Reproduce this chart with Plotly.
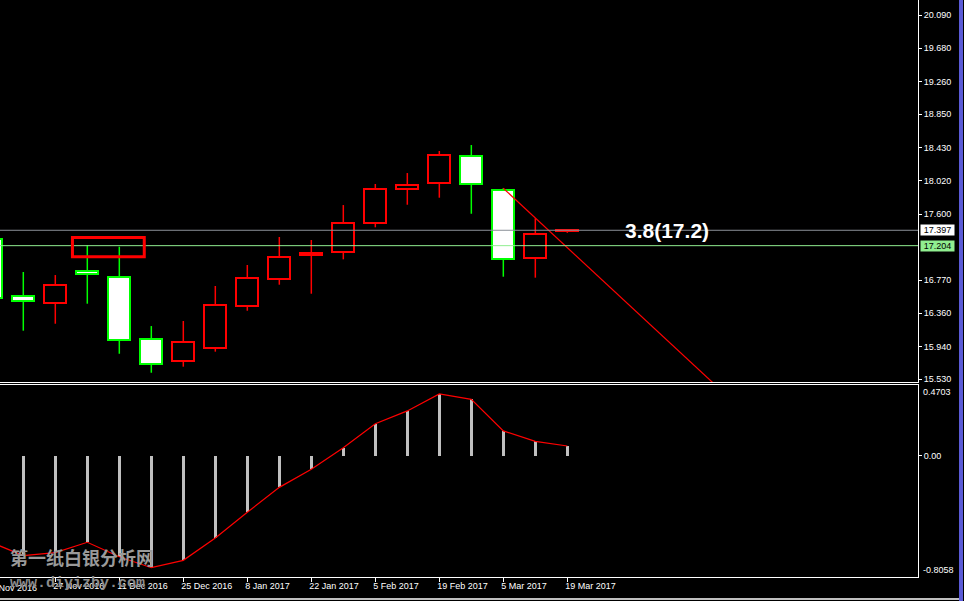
import plotly.graph_objects as go
import pandas as pd

# ---------------- data ----------------
dates = ["2016-11-13", "2016-11-20", "2016-11-27", "2016-12-04", "2016-12-11",
         "2016-12-18", "2016-12-25", "2017-01-01", "2017-01-08", "2017-01-15",
         "2017-01-22", "2017-01-29", "2017-02-05", "2017-02-12", "2017-02-19",
         "2017-02-26", "2017-03-05", "2017-03-12", "2017-03-19"]
opens = [17.284, 16.570, 16.481, 16.883, 16.808, 16.031, 15.755, 15.918, 16.444, 16.782,
         17.083, 17.120, 17.484, 17.910, 17.985, 18.324, 17.898, 17.045, 17.392]
highs = [17.330, 16.874, 16.836, 17.208, 17.191, 16.197, 16.260, 16.699, 16.962, 17.313,
         17.275, 17.713, 17.977, 18.114, 18.390, 18.465, 17.926, 17.547, 17.410]
lows = [16.450, 16.139, 16.226, 16.477, 15.850, 15.612, 15.688, 15.876, 16.389, 16.715,
        16.602, 17.033, 17.434, 17.717, 17.805, 17.604, 16.815, 16.803, 17.365]
closes = [16.544, 16.506, 16.708, 16.845, 16.018, 15.717, 15.994, 16.457, 16.796, 17.059,
          17.109, 17.485, 17.911, 17.961, 18.337, 17.972, 17.033, 17.347, 17.398]

osc_values = [-0.576, -0.664, -0.644, -0.575, -0.671, -0.744, -0.695, -0.547, -0.376, -0.210,
              -0.090, 0.054, 0.213, 0.298, 0.411, 0.375, 0.165, 0.096, 0.065]

bid_price = 17.397
level_price = 17.204
note_text = "3.8(17.2)"
note_date = "2017-03-31 05:00"
rect_dates = ["2016-11-30 18:00", "2016-12-16 11:00"]
rect_prices = [17.064, 17.306]
trend_dates = ["2017-03-05", "2017-03-12"]
trend_prices = [17.923, 17.551]

price_ticks = [20.090, 19.680, 19.260, 18.850, 18.430, 18.020, 17.600, 16.770, 16.360, 15.940, 15.530]
price_tick_labels = ["20.090", "19.680", "19.260", "18.850", "18.430", "18.020", "17.600",
                     "16.770", "16.360", "15.940", "15.530"]
date_ticks = ["2016-11-27", "2016-12-11", "2016-12-25", "2017-01-08", "2017-01-22",
              "2017-02-05", "2017-02-19", "2017-03-05", "2017-03-19"]
date_tick_labels = ["27 Nov 2016", "11 Dec 2016", "25 Dec 2016", "8 Jan 2017", "22 Jan 2017",
                    "5 Feb 2017", "19 Feb 2017", "5 Mar 2017", "19 Mar 2017"]
first_date = "2016-11-13"
first_date_label = "13 Nov 2016"
osc_max_label = "0.4703"
osc_min_label = "-0.8058"
osc_max = 0.4703
osc_min = -0.8058

x_range = ["2016-11-14 21:40", "2017-06-03 17:00"]
price_range = [15.496, 20.282]

# ---------------- styling ----------------
UP_LINE = "#ff0000"
DOWN_LINE = "#00ff00"
FONT = "Liberation Sans"
DAY_MS = 86400000
body_width = 4.8125 * DAY_MS
hist_width = 0.66 * DAY_MS
PLOT_W = 918.0
PLOT_H = 577.0

d = pd.to_datetime(dates)
up_idx = [i for i in range(len(dates)) if closes[i] >= opens[i]]
dn_idx = [i for i in range(len(dates)) if closes[i] < opens[i]]


def wick_xy(idx):
    xs, ys = [], []
    for i in idx:
        top = max(opens[i], closes[i])
        bot = min(opens[i], closes[i])
        xs += [d[i], d[i], None, d[i], d[i], None]
        ys += [highs[i], top, None, bot, lows[i], None]
    return xs, ys


fig = go.Figure()

for idx, col in ((up_idx, UP_LINE), (dn_idx, DOWN_LINE)):
    wx, wy = wick_xy(idx)
    fig.add_trace(go.Scatter(x=wx, y=wy, mode="lines", line=dict(color=col, width=1.5),
                             hoverinfo="skip", showlegend=False, xaxis="x", yaxis="y"))

fig.add_trace(go.Bar(x=[d[i] for i in up_idx],
                     base=[opens[i] for i in up_idx],
                     y=[closes[i] - opens[i] for i in up_idx],
                     width=body_width,
                     marker=dict(color="#000000", line=dict(color=UP_LINE, width=2)),
                     showlegend=False, xaxis="x", yaxis="y"))
fig.add_trace(go.Bar(x=[d[i] for i in dn_idx],
                     base=[closes[i] for i in dn_idx],
                     y=[opens[i] - closes[i] for i in dn_idx],
                     width=body_width,
                     marker=dict(color="#ffffff", line=dict(color=DOWN_LINE, width=2)),
                     showlegend=False, xaxis="x", yaxis="y"))

# trend line (ray through two anchor points)
t0 = pd.Timestamp(trend_dates[0])
t1 = pd.Timestamp(trend_dates[1])
slope = (trend_prices[1] - trend_prices[0]) / (t1 - t0).total_seconds()
t_end = pd.Timestamp(x_range[1]) + pd.Timedelta(days=30)
p_end = trend_prices[0] + slope * (t_end - t0).total_seconds()
fig.add_trace(go.Scatter(x=[t0, t_end], y=[trend_prices[0], p_end], mode="lines",
                         line=dict(color="#ff0000", width=1.2), hoverinfo="skip",
                         showlegend=False, xaxis="x", yaxis="y"))

# oscillator
fig.add_trace(go.Bar(x=d, y=osc_values, width=hist_width, marker=dict(color="#c0c0c0", line=dict(width=0)),
                     showlegend=False, xaxis="x2", yaxis="y2"))
fig.add_trace(go.Scatter(x=d, y=osc_values, mode="lines", line=dict(color="#ff0000", width=1.2),
                         hoverinfo="skip", showlegend=False, xaxis="x2", yaxis="y2"))

main_bottom = (PLOT_H - 382) / PLOT_H
sub_top = (PLOT_H - 385) / PLOT_H

fig.update_layout(
    width=964, height=601,
    margin=dict(l=0, r=46, t=0, b=24, pad=0),
    paper_bgcolor="#000000", plot_bgcolor="#000000",
    barmode="overlay", bargap=0,
    showlegend=False,
    font=dict(family=FONT, size=9, color="#ffffff"),
    xaxis=dict(domain=[0, 1], anchor="y", type="date", range=x_range,
               showticklabels=False, ticks="", showgrid=False, zeroline=False,
               showline=True, linecolor="#ffffff", linewidth=1),
    yaxis=dict(domain=[main_bottom, 1], anchor="x", side="right", range=price_range,
               tickvals=price_ticks, ticktext=price_tick_labels, ticks="outside",
               ticklen=3, tickcolor="#ffffff", tickwidth=1, showgrid=False, zeroline=False,
               showline=True, linecolor="#ffffff", linewidth=1,
               tickfont=dict(family=FONT, size=9, color="#ffffff")),
    xaxis2=dict(domain=[0, 1], anchor="y2", type="date", range=x_range, matches="x",
                tickvals=date_ticks, ticktext=date_tick_labels, ticks="outside",
                ticklen=4, tickcolor="#ffffff", ticklabelposition="outside right",
                ticklabelshift=-3,
                showgrid=False, zeroline=False, showline=True, mirror=True,
                linecolor="#ffffff", linewidth=1,
                tickfont=dict(family=FONT, size=9, color="#ffffff")),
    yaxis2=dict(domain=[0, sub_top], anchor="x2", side="right", range=[osc_min, osc_max],
                tickvals=[0], ticktext=["0.00"], ticks="outside", ticklen=3,
                tickcolor="#ffffff", showgrid=False, zeroline=False, showline=True,
                linecolor="#ffffff", linewidth=1,
                tickfont=dict(family=FONT, size=9, color="#ffffff")),
)

shapes = [
    dict(type="line", xref="x domain", yref="y", x0=0, x1=1, y0=bid_price, y1=bid_price,
         line=dict(color="#8a8f98", width=1)),
    dict(type="line", xref="x domain", yref="y", x0=0, x1=1, y0=level_price, y1=level_price,
         line=dict(color="#90ee90", width=1)),
    dict(type="rect", xref="x", yref="y", x0=rect_dates[0], x1=rect_dates[1],
         y0=rect_prices[0], y1=rect_prices[1], line=dict(color="#ff0000", width=3)),
    # window frame: blue right border, white bottom border
    dict(type="rect", xref="paper", yref="paper", layer="above", x0=959 / PLOT_W, x1=963 / PLOT_W,
         y0=-24 / PLOT_H, y1=1, line=dict(width=0), fillcolor="#5b5bd6"),
    dict(type="line", xref="paper", yref="paper", layer="above", x0=0, x1=959 / PLOT_W,
         y0=-22 / PLOT_H, y1=-22 / PLOT_H, line=dict(color="#ffffff", width=1.5)),
]
fig.update_layout(shapes=shapes)

# paper position of the (off-range) first date label
r0 = pd.Timestamp(x_range[0])
r1 = pd.Timestamp(x_range[1])
first_frac = (pd.Timestamp(first_date) - r0) / (r1 - r0)

annotations = [
    dict(text=note_text, xref="x", yref="y", x=note_date, y=bid_price, xanchor="left",
         yanchor="middle", showarrow=False,
         font=dict(family=FONT, size=21, color="#ffffff", weight="bold")),
    dict(text=f"{bid_price:.3f}", xref="paper", yref="y", x=1, y=bid_price, xanchor="left",
         yanchor="middle", xshift=2, showarrow=False, bgcolor="#ffffff", borderpad=0,
         width=33, height=10, align="center",
         font=dict(family=FONT, size=9, color="#000000")),
    dict(text=f"{level_price:.3f}", xref="paper", yref="y", x=1, y=level_price, xanchor="left",
         yanchor="middle", xshift=2, showarrow=False, bgcolor="#90ee90", borderpad=0,
         width=33, height=10, align="center",
         font=dict(family=FONT, size=9, color="#000000")),
    dict(text=osc_max_label, xref="paper", yref="y2", x=1, y=osc_max, xanchor="left",
         yanchor="top", xshift=3, showarrow=False,
         font=dict(family=FONT, size=9, color="#ffffff")),
    dict(text=osc_min_label, xref="paper", yref="y2", x=1, y=osc_min, xanchor="left",
         yanchor="bottom", xshift=3, showarrow=False,
         font=dict(family=FONT, size=9, color="#ffffff")),
    dict(text=first_date_label, xref="paper", yref="paper", x=first_frac, y=-4 / PLOT_H,
         xanchor="left", yanchor="top", xshift=-7, showarrow=False,
         font=dict(family=FONT, size=9, color="#ffffff")),
    dict(text="第一纸白银分析网", xref="paper", yref="paper", x=8 / PLOT_W, y=20 / PLOT_H,
         xanchor="left", yanchor="middle", showarrow=False,
         font=dict(family="Noto Sans CJK SC", size=18, color="#9a9a9a", weight="bold")),
    dict(text="www.diyizby.com", xref="paper", yref="paper", x=8 / PLOT_W, y=-6 / PLOT_H,
         xanchor="left", yanchor="middle", showarrow=False,
         font=dict(family="Liberation Mono", size=15, color="#8c8c8c", weight="bold")),
]
fig.update_layout(annotations=annotations)

fig.write_html("out.html", config={"displayModeBar": False},
               post_script="document.body.style.margin='0';document.body.style.overflow='hidden';")
